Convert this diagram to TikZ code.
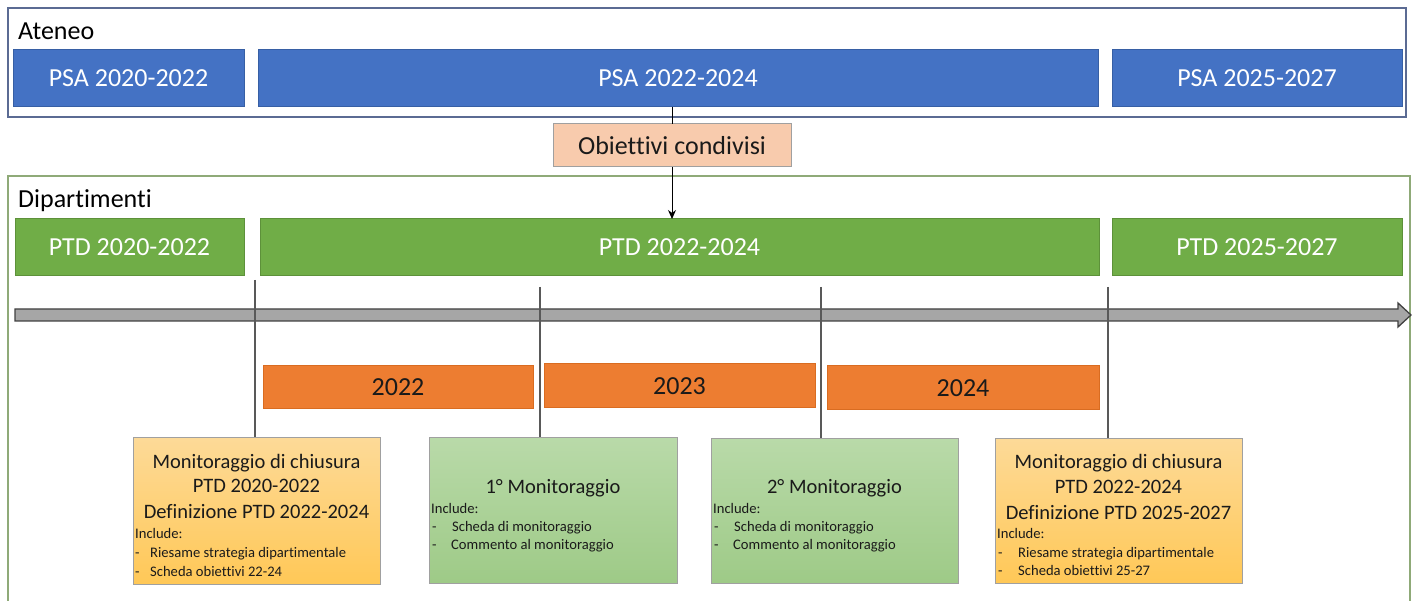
\documentclass[tikz,border=0pt]{standalone}
\usepackage{fontspec}
\setmainfont{Carlito}[Ligatures=NoCommon]
\usetikzlibrary{arrows.meta}
\definecolor{cblue}{HTML}{4472C4}
\definecolor{cblueD}{HTML}{2F528F}
\definecolor{cgreen}{HTML}{70AD47}
\definecolor{cgreenD}{HTML}{507E32}
\definecolor{corange}{HTML}{ED7D31}
\definecolor{corangeD}{HTML}{C55A11}
\definecolor{cpeach}{HTML}{F8CBAD}
\definecolor{cframeA}{HTML}{5B6B93}
\definecolor{cframeD}{HTML}{8FAA78}
\definecolor{cbarfill}{HTML}{A6A6A6}
\definecolor{cbarline}{HTML}{404040}
\definecolor{cvline}{HTML}{595959}
\definecolor{cyelT}{HTML}{FDDA98}
\definecolor{cyelB}{HTML}{FFC857}
\definecolor{cgrnT}{HTML}{B9DAA9}
\definecolor{cgrnB}{HTML}{9ECA87}
\definecolor{cboxline}{HTML}{A0A0A0}
\definecolor{ctext}{HTML}{1A1A1A}
\newcommand\fbig{\fontsize{26}{31}\selectfont}
\newcommand\fmid{\fontsize{20.5}{24}\selectfont}
\newcommand\fsmall{\fontsize{14.6}{18}\selectfont}
\begin{document}
\begin{tikzpicture}[x=1pt,y=-1pt,
  boxbase/.style={rectangle,inner sep=0pt,outer sep=0pt,line width=1pt,font=\fbig},
  psa/.style={boxbase,fill=cblue,draw=cblueD!60!cblue,text=white},
  ptd/.style={boxbase,fill=cgreen,draw=cgreenD!60!cgreen,text=white},
  yearbox/.style={boxbase,fill=corange,draw=corangeD!50!corange,text=ctext},
  objbox/.style={boxbase,fill=cpeach,draw=cboxline,text=ctext},
  monY/.style={rectangle,inner sep=0pt,line width=1pt,draw=cboxline,top color=cyelT,bottom color=cyelB},
  monG/.style={rectangle,inner sep=0pt,line width=1pt,draw=cboxline,top color=cgrnT,bottom color=cgrnB},
  title/.style={inner sep=0pt,font=\fmid,text=ctext,anchor=mid},
  small/.style={inner sep=0pt,font=\fsmall,text=ctext,anchor=mid west},
  framelbl/.style={inner sep=0pt,font=\fbig,text=black,anchor=mid west},
  vline/.style={draw=cvline,line width=2pt}
]
\useasboundingbox (0,0) rectangle (1419,601);

% Ateneo frame
\draw[cframeA,line width=1.5pt] (8,8) rectangle (1406,117);
\node[framelbl] (ateneo) at (18,37) {Ateneo};
\node[psa,minimum width=231pt,minimum height=57pt] (psa1) at (128.5,78.5) {PSA 2020-2022};
\node[psa,minimum width=840pt,minimum height=57pt] (psa2) at (678,78.5) {PSA 2022-2024};
\node[psa,minimum width=290pt,minimum height=57pt] (psa3) at (1257,78.5) {PSA 2025-2027};

% Dipartimenti frame
\draw[cframeD,line width=1.5pt] (8,601) -- (8,176) -- (1410,176) -- (1410,601);
\node[framelbl] (dip) at (18,205) {Dipartimenti};
\node[ptd,minimum width=229pt,minimum height=57pt] (ptd1) at (129.5,247.5) {PTD 2020-2022};
\node[ptd,minimum width=839pt,minimum height=57pt] (ptd2) at (679.5,247.5) {PTD 2022-2024};
\node[ptd,minimum width=290pt,minimum height=57pt] (ptd3) at (1257,247.5) {PTD 2025-2027};

% shared objectives
\node[objbox,minimum width=238pt,minimum height=43pt] (obj) at (672,145.5) {Obiettivi condivisi};
\draw[black,line width=1pt] (psa2.south -| obj.north) -- (obj.north);
\draw[black,line width=1pt,-{Stealth[length=9pt,width=8pt]}] (obj.south) -- (ptd2.north -| obj.south);

% timeline
\filldraw[fill=cbarfill,draw=cbarline,line width=1.3pt,line join=miter]
  (15,309) -- (1398,309) -- (1398,303) -- (1411,315) -- (1398,327) -- (1398,321) -- (15,321) -- cycle;

% years
\node[yearbox,minimum width=270pt,minimum height=43pt] (y22) at (398,387.5) {2022};
\node[yearbox,minimum width=271pt,minimum height=44pt] (y23) at (679.5,386) {2023};
\node[yearbox,minimum width=272pt,minimum height=44pt] (y24) at (963,388) {2024};

% monitoring boxes
\node[monY,minimum width=247pt,minimum height=147pt] (m1) at (256.5,510.5) {};
\node[monG,minimum width=248pt,minimum height=146pt] (m2) at (553,510) {};
\node[monG,minimum width=247pt,minimum height=145pt] (m3) at (834.5,510.5) {};
\node[monY,minimum width=247pt,minimum height=145pt] (m4) at (1118.5,510.5) {};

% vertical markers
\coordinate (v1) at (255,280);
\coordinate (v2) at (540,287);
\coordinate (v3) at (821,287);
\coordinate (v4) at (1108,287);
\draw[vline] (v1) -- (v1 |- m1.north);
\draw[vline] (v2) -- (v2 |- m2.north);
\draw[vline] (v3) -- (v3 |- m3.north);
\draw[vline] (v4) -- (v4 |- m4.north);

% box 1 text
\node[title] (m1a) at (256.5,466) {Monitoraggio di chiusura};
\node[title] (m1b) at (256.5,490) {PTD 2020-2022};
\node[title] (m1c) at (256.5,516) {Definizione PTD 2022-2024};
\node[small] (m1d) at (135,536) {Include:};
\node[small] (m1e) at (135,555) {-};
\node[small] (m1f) at (150,555) {Riesame strategia dipartimentale};
\node[small] (m1g) at (135,574) {-};
\node[small] (m1h) at (150,574) {Scheda obiettivi 22-24};

% box 2 text
\node[title] (m2a) at (553,491) {1° Monitoraggio};
\node[small] (m2b) at (431,511) {Include:};
\node[small] (m2c) at (432,529) {-};
\node[small] (m2d) at (452,529) {Scheda di monitoraggio};
\node[small] (m2e) at (432,547) {-};
\node[small] (m2f) at (451,547) {Commento al monitoraggio};

% box 3 text
\node[title] (m3a) at (834.5,491) {2° Monitoraggio};
\node[small] (m3b) at (713,511) {Include:};
\node[small] (m3c) at (714,529) {-};
\node[small] (m3d) at (734,529) {Scheda di monitoraggio};
\node[small] (m3e) at (714,547) {-};
\node[small] (m3f) at (733,547) {Commento al monitoraggio};

% box 4 text
\node[title] (m4a) at (1118.5,466) {Monitoraggio di chiusura};
\node[title] (m4b) at (1118.5,491) {PTD 2022-2024};
\node[title] (m4c) at (1118.5,517) {Definizione PTD 2025-2027};
\node[small] (m4d) at (997,536) {Include:};
\node[small] (m4e) at (998,555) {-};
\node[small] (m4f) at (1018,555) {Riesame strategia dipartimentale};
\node[small] (m4g) at (998,573) {-};
\node[small] (m4h) at (1018,573) {Scheda obiettivi 25-27};
\end{tikzpicture}
\end{document}
